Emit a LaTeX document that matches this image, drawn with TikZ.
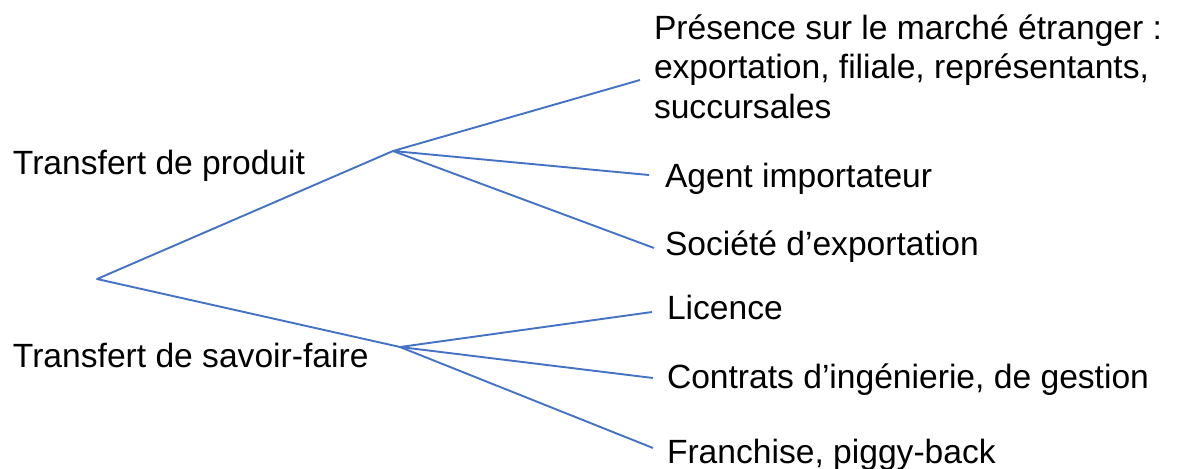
\documentclass[tikz,border=0pt]{standalone}
\usepackage{fontspec}
\setmainfont{Liberation Sans}
\usetikzlibrary{positioning}
\definecolor{BranchBlue}{HTML}{4472C4}

\begin{document}
\begin{tikzpicture}[
	x=0.025cm, y=-0.025cm,
	ItemText/.style={anchor=base west, inner sep=0pt, outer sep=0pt,
		align=left, font=\fontsize{23.9}{28}\selectfont},
	Branch/.style={draw=BranchBlue, line width=1.35pt, line join=round},
	]
	\useasboundingbox (0,0) rectangle (1177,468);

	% forks of the tree
	\coordinate (root) at (97,279);
	\coordinate (forkP) at (393,151);
	\coordinate (forkS) at (400,347);

	% free ends of the branches
	\coordinate (endPres) at (640,80);
	\coordinate (endAgent) at (649,175);
	\coordinate (endSoc) at (654,248);
	\coordinate (endLic) at (652,312);
	\coordinate (endCon) at (653,378);
	\coordinate (endFra) at (653,448);

	\node [ItemText] (prod) at (13,174) {Transfert de produit};
	\node [ItemText] (savoir) at (13,367) {Transfert de savoir-faire};

	% base of a multi-line node is its last line
	\node [ItemText] (pres) at (654,118) {Présence sur le marché étranger :\\
		exportation, filiale, représentants,\\ succursales};
	\node [ItemText] (agent) at (665,187) {Agent importateur};
	\node [ItemText] (soc) at (665,255) {Société d’exportation};
	\node [ItemText] (lic) at (667,319) {Licence};
	\node [ItemText] (con) at (667,388) {Contrats d’ingénierie, de gestion};
	\node [ItemText] (fra) at (667,463) {Franchise, piggy-back};

	\draw [Branch] (forkP) -- (root) -- (forkS);
	\draw [Branch] (endPres) -- (forkP) -- (endAgent);
	\draw [Branch] (forkP) -- (endSoc);
	\draw [Branch] (endLic) -- (forkS) -- (endCon);
	\draw [Branch] (forkS) -- (endFra);

\end{tikzpicture}
\end{document}
